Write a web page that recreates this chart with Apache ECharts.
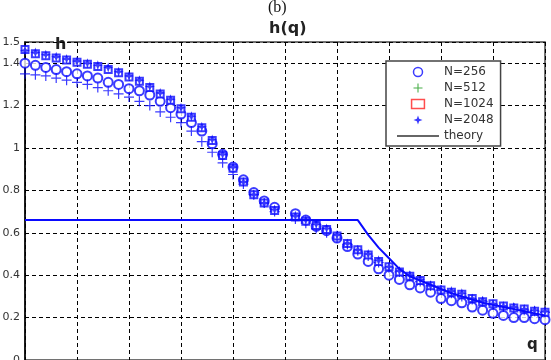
<!DOCTYPE html>
<html>
<head>
<meta charset="utf-8">
<script src="https://cdn.jsdelivr.net/npm/echarts@6.0.0/dist/echarts.min.js"></script>
<style>
  html, body { margin: 0; padding: 0; background: #fff; }
  #chart { width: 551px; height: 360px; }
</style>
</head>
<body>
<div id="chart"></div>
<script>
// h(q) 추정치 — N별 산점도 + 이론 곡선
const qValues = [-10, -9.6, -9.2, -8.8, -8.4, -8, -7.6, -7.2, -6.8, -6.4, -6, -5.6, -5.2, -4.8, -4.4, -4, -3.6, -3.2, -2.8, -2.4, -2, -1.6, -1.2, -0.8, -0.4,
  0.4, 0.8, 1.2, 1.6, 2, 2.4, 2.8, 3.2, 3.6, 4, 4.4, 4.8, 5.2, 5.6, 6, 6.4, 6.8, 7.2, 7.6, 8, 8.4, 8.8, 9.2, 9.6, 10];

const h256 = [1.40, 1.39, 1.38, 1.37, 1.36, 1.35, 1.34, 1.33, 1.31, 1.30, 1.28, 1.27, 1.25, 1.22, 1.19, 1.16, 1.12, 1.08, 1.02, 0.97, 0.91, 0.85, 0.79, 0.75, 0.72,
  0.69, 0.66, 0.63, 0.61, 0.575, 0.535, 0.50, 0.465, 0.43, 0.40, 0.38, 0.355, 0.34, 0.32, 0.29, 0.28, 0.27, 0.25, 0.235, 0.22, 0.21, 0.20, 0.20, 0.195, 0.19];
const h512 = [1.35, 1.345, 1.34, 1.33, 1.32, 1.31, 1.30, 1.285, 1.27, 1.255, 1.24, 1.22, 1.20, 1.17, 1.145, 1.12, 1.08, 1.03, 0.98, 0.93, 0.875, 0.83, 0.78, 0.74, 0.70,
  0.665, 0.645, 0.62, 0.60, 0.575, 0.545, 0.515, 0.49, 0.46, 0.435, 0.415, 0.395, 0.37, 0.35, 0.33, 0.315, 0.30, 0.285, 0.275, 0.26, 0.25, 0.245, 0.235, 0.23, 0.225];
const h1024 = [1.465, 1.445, 1.435, 1.425, 1.415, 1.405, 1.395, 1.385, 1.37, 1.355, 1.335, 1.315, 1.285, 1.255, 1.225, 1.185, 1.145, 1.095, 1.035, 0.965, 0.905, 0.84, 0.78, 0.74, 0.705,
  0.675, 0.655, 0.635, 0.615, 0.585, 0.55, 0.52, 0.495, 0.465, 0.44, 0.415, 0.395, 0.375, 0.35, 0.33, 0.32, 0.31, 0.29, 0.275, 0.265, 0.255, 0.245, 0.24, 0.23, 0.225];
const h2048 = [1.46, 1.45, 1.44, 1.43, 1.42, 1.41, 1.40, 1.39, 1.38, 1.36, 1.34, 1.32, 1.29, 1.26, 1.23, 1.19, 1.15, 1.10, 1.04, 0.97, 0.91, 0.84, 0.78, 0.74, 0.71,
  0.68, 0.66, 0.64, 0.62, 0.59, 0.55, 0.52, 0.50, 0.47, 0.44, 0.42, 0.40, 0.38, 0.35, 0.33, 0.325, 0.315, 0.29, 0.28, 0.265, 0.255, 0.25, 0.24, 0.235, 0.23];

const theoryQ = [-10, 2.8, 3.2, 3.6, 4, 4.4, 4.8, 5.2, 5.6, 6, 6.4, 6.8, 7.2, 7.6, 8, 8.4, 8.8, 9.2, 9.6, 10];
const theoryH = [0.66, 0.66, 0.59, 0.53, 0.48, 0.43, 0.395, 0.375, 0.355, 0.335, 0.315, 0.30, 0.285, 0.27, 0.26, 0.25, 0.24, 0.23, 0.22, 0.21];

const seriesNames = ["N=256", "N=512", "N=1024", "N=2048", "theory"];

const BLUE = "#0a0aff";
const PLUS = "path://M4.4,0h1.2v4.4h4.4v1.2h-4.4v4.4h-1.2v-4.4h-4.4v-1.2h4.4z";
const STAR = "path://M5,0L6.3,3.7L10,5L6.3,6.3L5,10L3.7,6.3L0,5L3.7,3.7Z";
const SQUARE = "path://M0,0h10v7h-10z";
const LINE = "path://M0,0h42v1.5h-42z";

const pairs = (ys) => qValues.map((q, i) => [q, ys[i]]);
const dash = { type: [4, 3], color: "#000", width: 1 };

const chart = echarts.init(document.getElementById("chart"), null, { renderer: "canvas" });

chart.setOption({
  animation: false,
  grid: {
    left: 25, right: 6, top: 42, bottom: 0,
    outerBoundsMode: "none", containLabel: false,
    show: true, borderColor: "#444", borderWidth: 1.5, backgroundColor: "transparent",
  },
  xAxis: {
    type: "value", min: -10, max: 10, interval: 2,
    axisLabel: { show: false }, axisTick: { show: false },
    axisLine: { show: false },
    splitLine: { show: true, lineStyle: dash },
  },
  yAxis: {
    type: "value", min: 0, max: 1.5, interval: 0.2,
    axisLine: { show: true, onZero: false, lineStyle: { color: "#000", width: 1.5 } },
    axisTick: { show: false },
    axisLabel: { color: "#333", fontSize: 11, fontFamily: "DejaVu Sans", margin: 5 },
    splitLine: { show: true, lineStyle: dash },
  },
  legend: {
    orient: "vertical", left: 386, top: 61,
    padding: [5, 7, 4, 11],
    itemWidth: 42, itemHeight: 9, itemGap: 4,
    backgroundColor: "#fff", borderColor: "#444", borderWidth: 1.5, borderRadius: 0,
    textStyle: { color: "#333", fontSize: 12, fontFamily: "DejaVu Sans" },
    data: [
      { name: seriesNames[0], icon: "circle", itemStyle: { color: "#fff", borderColor: BLUE, borderWidth: 1.5 } },
      { name: seriesNames[1], icon: PLUS, itemStyle: { color: "#1a9a1a" } },
      { name: seriesNames[2], icon: SQUARE, itemStyle: { color: "#fff", borderColor: "#ff2020", borderWidth: 1.5 } },
      { name: seriesNames[3], icon: STAR, itemStyle: { color: BLUE } },
      { name: seriesNames[4], icon: LINE, itemStyle: { color: "#333" } },
    ],
  },
  graphic: [
    { type: "text", left: 268, top: 0, style: { text: "(b)", font: "16px 'Liberation Serif'", fill: "#111" } },
    { type: "text", left: 269, top: 21, style: { text: "h(q)", font: "bold 16px 'DejaVu Sans'", fill: "#222" } },
    { type: "text", left: 54, top: 37, style: { text: "h", font: "bold 16px 'DejaVu Sans'", fill: "#222", backgroundColor: "#fff", padding: [0, 1, 0, 1] } },
    { type: "text", left: 527, top: 338, style: { text: "q", font: "bold 15px 'DejaVu Sans'", fill: "#222" } },
  ],
  series: [
    { name: seriesNames[0], type: "scatter", symbol: "emptyCircle", symbolSize: 9, data: pairs(h256),
      itemStyle: { color: BLUE, borderColor: BLUE, borderWidth: 1.3 } },
    { name: seriesNames[1], type: "scatter", symbol: PLUS, symbolSize: 10, data: pairs(h512),
      itemStyle: { color: BLUE } },
    { name: seriesNames[2], type: "scatter", symbol: "emptyRect", symbolSize: 7, data: pairs(h1024),
      itemStyle: { color: BLUE, borderColor: BLUE, borderWidth: 1 } },
    { name: seriesNames[3], type: "scatter", symbol: STAR, symbolSize: 10, data: pairs(h2048),
      itemStyle: { color: BLUE } },
    { name: seriesNames[4], type: "line", showSymbol: false, symbol: "none", z: 3,
      data: theoryQ.map((q, i) => [q, theoryH[i]]),
      lineStyle: { color: BLUE, width: 2 } },
  ],
});
</script>
</body>
</html>
